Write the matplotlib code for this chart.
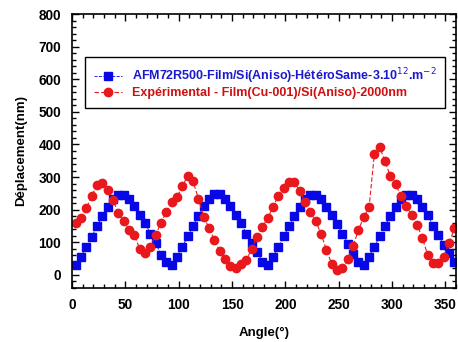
import numpy as np
import matplotlib
matplotlib.use("Agg")
import matplotlib.pyplot as plt
from matplotlib.ticker import MultipleLocator

plt.rcParams['font.family'] = ['Liberation Sans', 'DejaVu Sans']

# angles (deg), one point every 5 degrees
angles = np.arange(3.5, 360, 5)

# AFM72R500 simulation
simulation = [30, 56, 87, 117, 150, 180, 208, 232, 245, 245, 233, 210, 184, 159, 127, 97, 62, 41,
              31, 56, 87, 118, 150, 181, 210, 232, 247, 247, 232, 210, 184, 159, 126, 97, 70, 41,
              31, 56, 87, 118, 150, 181, 209, 232, 246, 246, 232, 209, 184, 157, 126, 96, 64, 41,
              31, 56, 87, 118, 150, 181, 208, 233, 246, 246, 233, 208, 184, 151, 123, 92, 67, 41]

# experimental film Cu(001)
experimental = [159, 174, 205, 243, 276, 283, 260, 229, 189, 164, 139, 124, 79, 68, 85, 124, 160, 194,
                224, 239, 272, 304, 287, 234, 179, 143, 107, 73, 50, 28, 22, 33, 45, 81, 115, 148,
                174, 209, 243, 268, 286, 286, 256, 225, 194, 164, 126, 77, 34, 15, 22, 48, 88, 138,
                177, 208, 372, 392, 348, 302, 278, 241, 210, 184, 154, 113, 61, 38, 36, 56, 97, 143]

label_sim = "AFM72R500-Film/Si(Aniso)-HétéroSame-3.10$^{12}$.m$^{-2}$"
label_exp = "Expérimental - Film(Cu-001)/Si(Aniso)-2000nm"

fig = plt.figure(figsize=(4.58, 3.42), dpi=100)
ax = fig.add_axes([72/458, 1 - 288/342, 384/458, 274/342])

ax.plot(angles, simulation, color='#0808e6', marker='s', markersize=5.6, linestyle='--',
        linewidth=0.6, label=label_sim)
ax.plot(angles, experimental, color='#e8181c', marker='o', markersize=6, linestyle='--',
        dashes=(4, 2), linewidth=0.8, label=label_exp)

ax.set_xlim(0, 360)
ax.set_ylim(-40, 800)
ax.xaxis.set_major_locator(MultipleLocator(50))
ax.xaxis.set_minor_locator(MultipleLocator(10))
ax.yaxis.set_major_locator(MultipleLocator(100))
ax.yaxis.set_minor_locator(MultipleLocator(20))
ax.tick_params(which='both', direction='in', top=True, right=True, width=1)
ax.tick_params(which='major', length=5, labelsize=9.8)
ax.tick_params(which='minor', length=3)
ax.tick_params(axis='y', which='major', pad=8)
ax.tick_params(axis='x', which='major', pad=7)
for lbl in ax.get_xticklabels() + ax.get_yticklabels():
    lbl.set_fontweight('bold')
for s in ax.spines.values():
    s.set_linewidth(1.2)

ax.set_xlabel("Angle(°)", fontsize=9.5, fontweight='bold', labelpad=11)
ax.set_ylabel("Déplacement(nm)", fontsize=9.5, fontweight='bold', labelpad=8)

leg = ax.legend(loc='upper left', bbox_to_anchor=(13/384, 231/274), borderaxespad=0,
                fancybox=False, edgecolor='black', framealpha=1, fontsize=9.0,
                handlelength=2.2, handletextpad=0.8, borderpad=0.72, labelspacing=0.12)
leg.get_frame().set_linewidth(1.0)
for txt, c in zip(leg.get_texts(), ['#1a1acc', '#d01010']):
    txt.set_color(c)
    txt.set_fontweight('bold')

fig.savefig("out.png", dpi=100)
